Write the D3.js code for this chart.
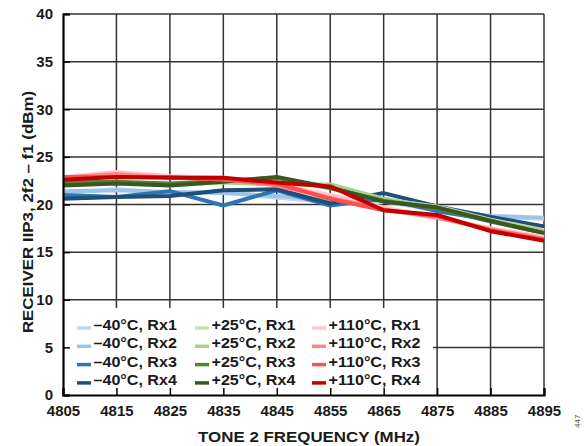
<!DOCTYPE html>
<html><head><meta charset="utf-8">
<script src="https://cdn.jsdelivr.net/npm/d3@7"></script>
<style>body{margin:0;background:#fff}svg{display:block}text{font-family:"Liberation Sans",Arial,sans-serif}</style>
</head><body><svg id="c" width="587" height="446"></svg>
<script>
const freqs = [4805,4815,4825,4835,4845,4855,4865,4875,4885,4895];
const xTicks = [4805,4815,4825,4835,4845,4855,4865,4875,4885,4895];
const yTicks = [0,5,10,15,20,25,30,35,40];
const seriesNames = ["–40°C, Rx1","–40°C, Rx2","–40°C, Rx3","–40°C, Rx4",
  "+25°C, Rx1","+25°C, Rx2","+25°C, Rx3","+25°C, Rx4",
  "+110°C, Rx1","+110°C, Rx2","+110°C, Rx3","+110°C, Rx4"];
const m40rx1 = [21.2,21.6,21.2,21.3,20.7,20.3,20.3,19.4,18.7,18.5];
const m40rx2 = [21.4,21.5,21.3,21.2,20.9,20.5,20.4,19.5,18.8,18.6];
const m40rx3 = [21.0,20.8,21.4,19.9,21.5,19.9,20.6,19.3,18.4,17.7];
const m40rx4 = [20.6,20.8,20.9,21.5,21.6,20.1,21.2,19.8,18.7,17.7];
const p25rx1 = [22.2,22.4,22.0,22.4,22.3,22.0,20.5,19.8,18.4,17.3];
const p25rx2 = [22.1,22.3,22.1,22.3,22.1,22.1,20.6,19.7,18.3,17.2];
const p25rx3 = [22.3,22.4,22.2,22.5,22.8,21.7,20.4,19.6,18.2,17.0];
const p25rx4 = [22.0,22.2,22.0,22.4,22.9,21.8,20.3,19.7,18.3,17.0];
const p110rx1 = [22.9,23.4,23.0,22.8,22.1,21.0,19.7,18.6,17.5,16.6];
const p110rx2 = [22.8,23.2,22.8,22.7,22.0,20.7,19.5,18.6,17.4,16.4];
const p110rx3 = [22.9,22.9,22.9,22.6,22.2,20.6,19.4,18.8,17.3,16.3];
const p110rx4 = [22.6,22.9,22.8,22.8,22.3,21.9,19.4,18.9,17.2,16.2];
const seriesValues = [m40rx1,m40rx2,m40rx3,m40rx4,p25rx1,p25rx2,p25rx3,p25rx4,p110rx1,p110rx2,p110rx3,p110rx4];
const colors = ["#bdd7ee","#9dc3e6","#2e75b6","#1f4e79","#c5e0b4","#a9d18e","#548235","#385723","#ffc7ce","#ff8585","#ff4f4f","#c00000"];

const svg = d3.select("#c");
const L=63, R=544, T=14, B=395;
const x = d3.scaleLinear().domain([4805,4895]).range([L,R]);
const y = d3.scaleLinear().domain([0,40]).range([B,T]);
const stretch = (sel,f)=>sel.each(function(){const w=this.getComputedTextLength();
  d3.select(this).attr("textLength",w*f).attr("lengthAdjust","spacingAndGlyphs");});

// grid
const g = svg.append("g");
g.selectAll(".vg").data(xTicks.slice(1)).join("line")
  .attr("x1",d=>x(d)).attr("x2",d=>x(d)).attr("y1",T).attr("y2",B)
  .attr("stroke","#333").attr("stroke-width",1.5);
g.selectAll(".hg").data(yTicks.slice(1)).join("line")
  .attr("x1",L).attr("x2",R).attr("y1",d=>y(d)).attr("y2",d=>y(d))
  .attr("stroke","#333").attr("stroke-width",1.5);

// lines
const line = d3.line().x((d,i)=>x(freqs[i])).y(d=>y(d));
seriesValues.forEach((vals,i)=>{
  svg.append("path").attr("d",line(vals)).attr("fill","none")
    .attr("stroke",colors[i]).attr("stroke-width",4).attr("stroke-linejoin","round");
});

// legend box
svg.append("rect").attr("x",L+1).attr("y",308).attr("width",369).attr("height",B-308)
  .attr("fill","#fff");
const lg = svg.append("g");
seriesNames.forEach((n,i)=>{
  const col = Math.floor(i/4), row = i%4;
  const cx = [77,195,312][col];
  const cy = 325 + row*18.3;
  lg.append("line").attr("x1",cx).attr("x2",cx+14).attr("y1",cy+3).attr("y2",cy+3)
    .attr("stroke",colors[i]).attr("stroke-width",3.5);
  lg.append("text").attr("x",cx+16.5).attr("y",cy).attr("dy","0.36em")
    .attr("font-size",14).attr("font-weight","bold").attr("fill","#1a1a1a").text(n)
    .call(stretch,1.15);
});

// axes
const xa = svg.append("g").attr("transform",`translate(0,${B})`)
  .call(d3.axisBottom(x).tickValues(xTicks).tickSize(-7).tickPadding(10).tickFormat(d3.format("d")));
const ya = svg.append("g").attr("transform",`translate(${L},0)`)
  .call(d3.axisLeft(y).tickValues(yTicks).tickSize(-7).tickPadding(10));
[xa,ya].forEach(a=>{
  a.select(".domain").attr("stroke","#000").attr("stroke-width",2.2);
  a.selectAll(".tick line").attr("stroke","#000").attr("stroke-width",1.5);
  a.selectAll("text").attr("font-size",15).attr("font-weight","bold").attr("fill","#1a1a1a")
    .style("font-family","'Liberation Sans',Arial,sans-serif");
});
ya.selectAll(".tick text").attr("x",-10);

// titles
svg.append("text").attr("x",309).attr("y",442).attr("text-anchor","middle")
  .attr("font-size",15.5).attr("font-weight","bold").attr("fill","#1a1a1a").text("TONE 2 FREQUENCY (MHz)")
  .call(stretch,1.09);
svg.append("text").attr("transform",`translate(33,212) rotate(-90)`).attr("text-anchor","middle")
  .attr("font-size",15.5).attr("font-weight","bold").attr("fill","#1a1a1a").text("RECEIVER IIP3, 2f2 – f1 (dBm)")
  .call(stretch,1.09);
svg.append("text").attr("transform","translate(580,428) rotate(-90)")
  .attr("font-size",8).attr("fill","#555").text("447");
</script></body></html>
